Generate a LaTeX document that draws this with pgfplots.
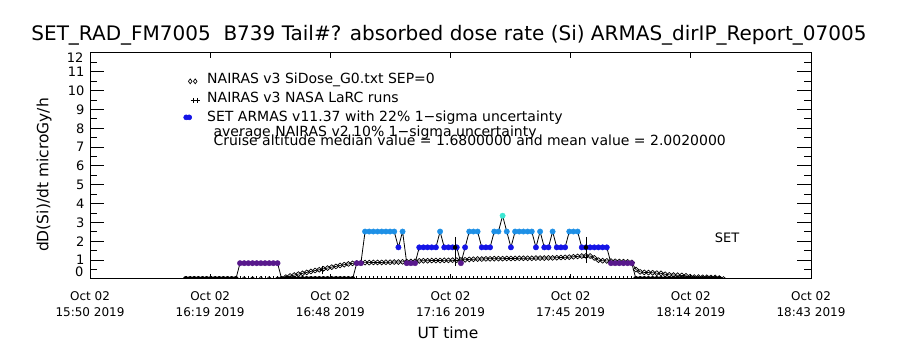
\documentclass[border=0pt]{standalone}
\usepackage{pgfplots}
\pgfplotsset{compat=1.18}
\usepackage{pgfplotstable}
\usepackage{fontspec}
\setmainfont{DejaVu Sans}

\definecolor{apurple}{RGB}{88,24,140}
\definecolor{adark}{RGB}{20,20,230}
\definecolor{alight}{RGB}{30,144,230}
\definecolor{acyan}{RGB}{60,230,210}

% ARMAS: minutes after 15:50 UT, dose rate, colour class
\pgfplotstableread{
t v c
23 0 z
24 0 z
25 0 z
26 0 z
27 0 z
28 0 z
29 0 z
30 0 z
31 0 z
32 0 z
33 0 z
34 0 z
35 0 z
36 0.84 p
37 0.84 p
38 0.84 p
39 0.84 p
40 0.84 p
41 0.84 p
42 0.84 p
43 0.84 p
44 0.84 p
45 0.84 p
46 0 z
47 0 z
48 0 z
49 0 z
50 0 z
51 0 z
52 0 z
53 0 z
54 0 z
55 0 z
56 0 z
57 0 z
58 0 z
59 0 z
60 0 z
61 0 z
62 0 z
63 0 z
64 0.84 p
65 0.84 p
66 2.52 l
67 2.52 l
68 2.52 l
69 2.52 l
70 2.52 l
71 2.52 l
72 2.52 l
73 2.52 l
74 1.68 b
75 2.52 l
76 0.84 p
77 0.84 p
78 0.84 p
79 1.68 b
80 1.68 b
81 1.68 b
82 1.68 b
83 1.68 b
84 2.52 l
85 1.68 b
86 1.68 b
87 1.68 b
88 1.68 b
89 0.84 p
90 1.68 b
91 2.52 l
92 2.52 l
93 2.52 l
94 1.68 b
95 1.68 b
96 1.68 b
97 2.52 l
98 2.52 l
99 3.36 c
100 2.52 l
101 1.68 b
102 2.52 l
103 2.52 l
104 2.52 l
105 2.52 l
106 2.52 l
107 1.68 b
108 2.52 l
109 1.68 b
110 1.68 b
111 2.52 l
112 1.68 b
113 1.68 b
114 1.68 b
115 2.52 l
116 2.52 l
117 2.52 l
118 1.68 b
119 1.68 b
120 1.68 b
121 1.68 b
122 1.68 b
123 1.68 b
124 1.68 b
125 0.84 p
126 0.84 p
127 0.84 p
128 0.84 p
129 0.84 p
130 0.84 p
131 0 z
132 0 z
133 0 z
134 0 z
135 0 z
136 0 z
137 0 z
138 0 z
139 0 z
140 0 z
141 0 z
142 0 z
143 0 z
144 0 z
145 0 z
146 0 z
147 0 z
148 0 z
149 0 z
150 0 z
151 0 z
}\armas

% NAIRAS v3 SiDose_G0
\pgfplotstableread{
t v
23 0
25 0
27 0
29 0
31 0
33 0
35 0
37 0
39 0
41 0
43 0
45 0
46 0
47 0.10
48 0.16
49 0.21
50 0.26
51 0.30
52 0.35
53 0.40
54 0.45
55 0.49
56 0.54
57 0.58
58 0.63
59 0.67
60 0.72
61 0.76
62 0.80
63 0.83
64 0.85
65 0.86
66 0.87
67 0.87
68 0.88
69 0.88
70 0.88
71 0.89
72 0.89
73 0.90
74 0.90
75 0.91
76 0.92
77 0.93
78 0.94
79 0.96
80 0.97
81 0.97
82 0.98
83 0.98
84 0.98
85 0.99
86 0.99
87 1.00
88 1.00
89 1.01
90 1.02
91 1.04
92 1.05
93 1.06
94 1.06
95 1.07
96 1.07
97 1.08
98 1.08
99 1.08
100 1.09
101 1.09
102 1.09
103 1.10
104 1.10
105 1.10
106 1.10
107 1.11
108 1.11
109 1.11
110 1.12
111 1.12
112 1.13
113 1.14
114 1.15
115 1.16
116 1.18
117 1.20
118 1.22
119 1.23
120 1.22
121 1.12
122 1.00
123 0.97
124 0.96
125 0.95
126 0.94
127 0.93
128 0.92
129 0.91
130 0.88
131 0.50
132 0.38
133 0.35
134 0.34
135 0.33
136 0.31
137 0.30
138 0.25
139 0.22
140 0.21
141 0.20
142 0.19
143 0.17
144 0.12
145 0.10
146 0.10
147 0.09
148 0.09
149 0.08
150 0.08
151 0.05
152 0
}\nairas

\begin{document}
\begin{tikzpicture}
\useasboundingbox (0pt,0pt) rectangle (900pt,350pt);
% main axis: y ticks, data
\begin{axis}[
  at={(90pt,71pt)}, anchor=south west,
  width=721pt, height=226pt, scale only axis,
  xmin=0, xmax=173, ymin=0, ymax=12,
  axis line style={line width=1pt},
  ytick={1,2,...,11},
  minor ytick={0.5,1.5,...,11.5},
  major tick length=14pt, minor tick length=7pt,
  xtick=\empty,
  tick style={black, line width=1pt},
  /pgf/number format/assume math mode=true,
  yticklabel style={font=\fontsize{13}{13}\selectfont, xshift=-2pt},
  clip marker paths=true,
  legend style={at={(0.129,0.920)}, anchor=north west, draw=none, fill=none,
    font=\fontsize{14}{17}\selectfont, inner sep=0pt, row sep=3pt},
  legend cell align=left,
]
\addlegendimage{legend image code/.code={\path[draw=none, fill=none] (0pt,0pt) -- (22pt,0pt); \draw[black, line width=0.7pt, mark=diamond, mark size=2.4pt, only marks] plot coordinates {(7pt,-2pt) (12pt,-2pt)};}}
\addlegendentry{NAIRAS v3 SiDose\_G0.txt SEP=0}
\addlegendimage{legend image code/.code={\path[draw=none, fill=none] (0pt,0pt) -- (22pt,0pt); \draw[black, line width=0.7pt, mark=+, mark size=2.5pt, only marks] plot coordinates {(10pt,-2pt) (14pt,-2pt)};}}
\addlegendentry{NAIRAS v3 NASA LaRC runs}
\addlegendimage{legend image code/.code={\path[draw=none, fill=none] (0pt,0pt) -- (22pt,0pt); \draw[adark, fill=adark, mark=*, mark size=2.6pt, only marks] plot coordinates {(3pt,0pt) (6pt,0pt)};}}
\addlegendentry{SET ARMAS v11.37 with 22\% 1−sigma uncertainty}

% NAIRAS G0 diamonds
\addplot[forget plot, black, line width=0.7pt, mark=diamond, mark size=2.4pt,
  mark options={xscale=1.5, line width=0.7pt}] table[x=t, y=v] {\nairas};
% LaRC runs (+) at zero
\addplot[forget plot, only marks, black, mark=+, mark size=2.5pt, mark options={line width=0.7pt}] coordinates {
(23,0) (24,0) (25,0) (26,0) (27,0) (28,0) (29,0) (30,0) (31,0) (32,0) (33,0) (34,0) (35,0) (36,0) (37,0) (38,0) (39,0) (40,0) (41,0) (42,0) (43,0) (44,0) (45,0) (46,0) (47,0) (48,0) (49,0) (50,0) (51,0) (52,0) (53,0) (54,0) (55,0) (56,0) (57,0) (58,0) (59,0) (60,0) (61,0) (62,0) (63,0) (64,0) (65,0) (66,0) (67,0) (68,0) (69,0) (70,0) (71,0) (72,0) (73,0) (74,0) (75,0) (76,0) (77,0) (78,0) (79,0) (80,0) (81,0) (82,0) (83,0) (84,0) (85,0) (86,0) (87,0) (88,0) (89,0) (90,0) (91,0) (92,0) (93,0) (94,0) (95,0) (96,0) (97,0) (98,0) (99,0) (100,0) (101,0) (102,0) (103,0) (104,0) (105,0) (106,0) (107,0) (108,0) (109,0) (110,0) (111,0) (112,0) (113,0) (114,0) (115,0) (116,0) (117,0) (118,0) (119,0) (120,0) (121,0) (122,0) (123,0) (124,0) (125,0) (126,0) (127,0) (128,0) (129,0) (130,0) (131,0) (132,0) (133,0) (134,0) (135,0) (136,0) (137,0) (138,0) (139,0) (140,0) (141,0) (142,0) (143,0) (144,0) (145,0) (146,0) (147,0) (148,0) (149,0) (150,0) (151,0)};
% ARMAS connecting line
\addplot[forget plot, black, line width=0.8pt] table[x=t, y=v] {\armas};
% ARMAS coloured points
\addplot[forget plot, scatter, only marks, scatter src=explicit symbolic,
  mark=*, mark size=2.7pt,
  scatter/classes={
    z={mark=*, draw=black, fill=black},
    p={mark=*, draw=apurple, fill=apurple},
    b={mark=*, draw=adark, fill=adark},
    l={mark=*, draw=alight, fill=alight},
    c={mark=*, draw=acyan, fill=acyan}}]
  table[x=t, y=v, meta=c] {\armas};
% LaRC runs with 10% error bars
\addplot[forget plot, only marks, black, mark=+, mark size=2.5pt,
  error bars/.cd, y dir=both, y explicit,
  error bar style={black, line width=0.8pt},
  error mark options={black, mark size=3.5pt, line width=0.8pt}]
  coordinates {(55.7,0.48) +- (0,0.05) (87.6,1.0) +- (0,0.1) (119,1.15) +- (0,0.12)};
% ARMAS 22% error bars
\addplot[forget plot, only marks, mark=none,
  error bars/.cd, y dir=both, y explicit,
  error bar style={black, line width=0.8pt},
  error mark options={black, mark size=3.5pt, line width=0.8pt}]
  coordinates {(87.6,1.68) +- (0,0.37) (119,1.68) +- (0,0.37)};
\end{axis}
% second axis: x ticks and labels
\begin{axis}[
  at={(90pt,71pt)}, anchor=south west,
  width=721pt, height=226pt, scale only axis,
  xmin=0, xmax=173, ymin=0, ymax=12,
  axis line style={line width=1pt},
  ytick=\empty,
  xtick={0,28.8333,57.6667,86.5,115.3333,144.1667,173},
  xticklabels={{Oct 02\\15:50 2019},{Oct 02\\16:19 2019},{Oct 02\\16:48 2019},{Oct 02\\17:16 2019},{Oct 02\\17:45 2019},{Oct 02\\18:14 2019},{Oct 02\\18:43 2019}},
  minor x tick num=3,
  major tick length=5pt, minor tick length=2.5pt,
  tick style={black, line width=1pt},
  xticklabel style={align=center, font=\fontsize{12}{16}\selectfont, yshift=-9pt},
]
\end{axis}
% end labels of the y axis, kept inside the axis range as in the original
\node[font=\fontsize{13}{13}\selectfont, anchor=east, inner sep=0pt] at (83.5pt,78pt) {0};
\node[font=\fontsize{13}{13}\selectfont, anchor=east, inner sep=0pt] at (83.5pt,292pt) {12};
\node[font=\fontsize{20}{24}\selectfont] at (449pt,315pt) {SET\_RAD\_FM7005~~B739 Tail\#? absorbed dose rate (Si) ARMAS\_dirIP\_Report\_07005};
\node[font=\fontsize{15.5}{18}\selectfont, rotate=90] at (44pt,175pt) {dD(Si)/dt microGy/h};
\node[font=\fontsize{15.5}{18}\selectfont] at (448pt,17pt) {UT time};
\node[font=\fontsize{14}{17}\selectfont, anchor=base west] at (210pt,213pt) {average NAIRAS v2 10\% 1−sigma uncertainty};
\node[font=\fontsize{14}{17}\selectfont, anchor=base west] at (210pt,204pt) {Cruise altitude median value = 1.6800000 and mean value = 2.0020000};
\node[font=\fontsize{13}{15}\selectfont] at (727pt,112.5pt) {SET};
\end{tikzpicture}
\end{document}
